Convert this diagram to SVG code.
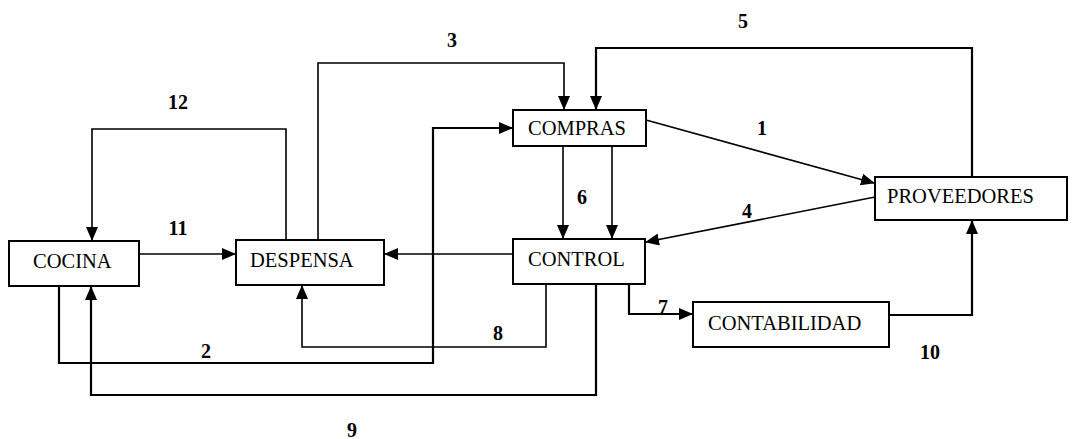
<svg xmlns="http://www.w3.org/2000/svg" width="1073" height="439" viewBox="0 0 1073 439">
<style>
.box{fill:#fff;stroke:#000;stroke-width:2}
.lbl{font-family:"Liberation Serif","Times New Roman",serif;font-size:20.5px;fill:#000}
.num{font-family:"Liberation Serif","Times New Roman",serif;font-size:20px;font-weight:bold;fill:#000}
.c{fill:none;stroke:#000;stroke-width:1.6}
.t{stroke-width:2.2}
</style>
<defs>
<marker id="ah" markerUnits="userSpaceOnUse" markerWidth="14" markerHeight="12" viewBox="0 0 14 12" refX="13" refY="6" orient="auto">
<path d="M0,0 L14,6 L0,12 Z" fill="#000"/>
</marker>
</defs>
<rect width="1073" height="439" fill="#fff"/>
<g id="connectors">
<path class="c" d="M286,240 V129 H92 V240" marker-end="url(#ah)"/>
<path class="c" d="M139,254 H235" marker-end="url(#ah)"/>
<path class="c" d="M318,240 V63 H564 V109" marker-end="url(#ah)"/>
<path class="c t" d="M972,177 V48 H596 V109" marker-end="url(#ah)"/>
<path class="c" d="M646,120 L874,183" marker-end="url(#ah)"/>
<path class="c" d="M875,197 L646,242" marker-end="url(#ah)"/>
<path class="c" d="M563,146 V238" marker-end="url(#ah)"/>
<path class="c" d="M612,146 V238" marker-end="url(#ah)"/>
<path class="c" d="M513,254 H385" marker-end="url(#ah)"/>
<path class="c t" d="M629,284 V314 H692" marker-end="url(#ah)"/>
<path class="c t" d="M889,315 H972 V221" marker-end="url(#ah)"/>
<path class="c" d="M546,284 V347 H302 V286" marker-end="url(#ah)"/>
<path class="c t" d="M59,286 V363 H433 V128 H512" marker-end="url(#ah)"/>
<path class="c t" d="M596,284 V395 H91 V287" marker-end="url(#ah)"/>
</g>
<g id="cocina"><rect class="box" x="9" y="241" width="130" height="45"/><text class="lbl" x="33" y="268">COCINA</text></g>
<g id="despensa"><rect class="box" x="236" y="240" width="148" height="45"/><text class="lbl" x="250" y="267">DESPENSA</text></g>
<g id="compras"><rect class="box" x="513" y="110" width="133" height="36"/><text class="lbl" x="528" y="135">COMPRAS</text></g>
<g id="control"><rect class="box" x="513" y="239" width="132" height="45"/><text class="lbl" x="528" y="266">CONTROL</text></g>
<g id="proveedores"><rect class="box" x="875" y="177" width="192" height="43"/><text class="lbl" x="887" y="203">PROVEEDORES</text></g>
<g id="contabilidad"><rect class="box" x="693" y="302" width="196" height="45"/><text class="lbl" x="708" y="330">CONTABILIDAD</text></g>
<g id="labels" text-anchor="middle">
<text class="num" x="178" y="109">12</text>
<text class="num" x="178" y="235">11</text>
<text class="num" x="452" y="47">3</text>
<text class="num" x="743" y="28">5</text>
<text class="num" x="762" y="135">1</text>
<text class="num" x="582" y="204">6</text>
<text class="num" x="747" y="218">4</text>
<text class="num" x="663" y="314">7</text>
<text class="num" x="498" y="340">8</text>
<text class="num" x="206" y="358">2</text>
<text class="num" x="930" y="359">10</text>
<text class="num" x="352" y="437">9</text>
</g>
</svg>
